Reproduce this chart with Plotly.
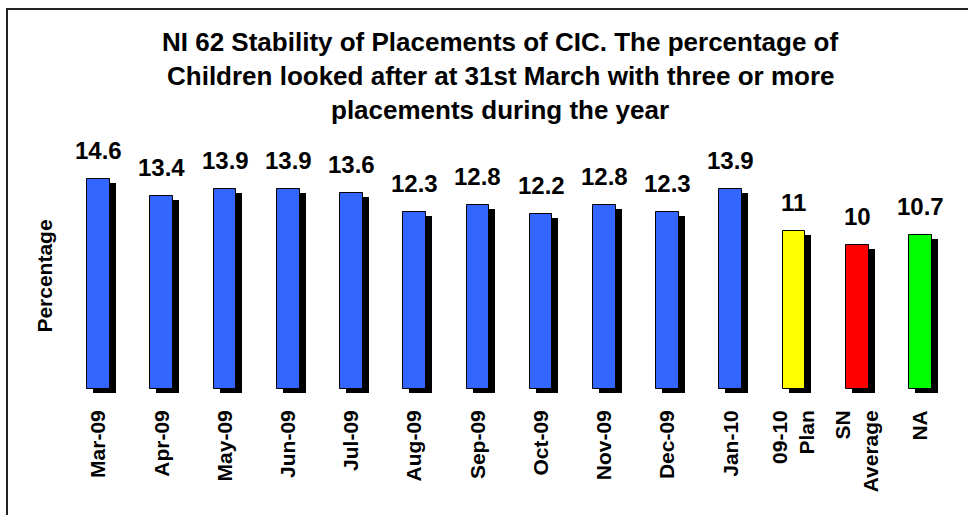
import plotly.graph_objects as go

categories = ["Mar-09", "Apr-09", "May-09", "Jun-09", "Jul-09", "Aug-09", "Sep-09",
              "Oct-09", "Nov-09", "Dec-09", "Jan-10", "09-10<br>Plan", "SN<br>Average", "NA"]
values = [14.6, 13.4, 13.9, 13.9, 13.6, 12.3, 12.8, 12.2, 12.8, 12.3, 13.9, 11, 10, 10.7]
labels = ["14.6", "13.4", "13.9", "13.9", "13.6", "12.3", "12.8", "12.2", "12.8", "12.3",
          "13.9", "11", "10", "10.7"]
colors = ["#3366FF"] * 11 + ["#FFFF00", "#FF0000", "#00FF00"]

title_lines = ["NI 62 Stability of Placements of CIC. The percentage of",
               "Children looked after at 31st March with three or more",
               "placements during the year"]

W, H = 968, 515
ML, MR, MT, MB = 67, 16, 159, 122
FONT = "Liberation Sans, Arial, sans-serif"


def px_x(p):
    return (p - ML) / (W - ML - MR)


def px_y(p):
    return (H - MB - p) / (H - MT - MB)


fig = go.Figure()

# drop shadow behind each bar
fig.add_trace(go.Bar(
    x=categories, y=values, base=-0.28, width=0.36, offset=-0.085,
    marker=dict(color="black", line=dict(width=0)),
    hoverinfo="skip", showlegend=False,
))
fig.add_trace(go.Bar(
    x=categories, y=values, width=0.36, offset=-0.18,
    marker=dict(color=colors, line=dict(color="black", width=1)),
    showlegend=False,
))

for c, v, t in zip(categories, values, labels):
    fig.add_annotation(x=c, y=v, text=t, showarrow=False, yanchor="bottom", yshift=13,
                       font=dict(family=FONT, size=24, color="black", weight="bold"))

for i, line in enumerate(title_lines):
    fig.add_annotation(xref="paper", yref="paper", x=px_x(500), y=px_y(42 + 34 * i),
                       text=line, showarrow=False, xanchor="center", yanchor="middle",
                       font=dict(family=FONT, size=26, color="black", weight="bold"))

# outer frame
fig.add_shape(type="rect", xref="paper", yref="paper",
              x0=px_x(7), x1=px_x(980), y0=px_y(9), y1=px_y(530),
              line=dict(color="#222222", width=2))

fig.update_layout(
    width=W, height=H,
    margin=dict(l=ML, r=MR, t=MT, b=MB),
    paper_bgcolor="white", plot_bgcolor="white",
    barmode="overlay", bargap=0,
    xaxis=dict(tickangle=-90, showgrid=False, showline=False, ticks="",
               ticklabelstandoff=12,
               tickfont=dict(family=FONT, size=21, color="black", weight="bold")),
    yaxis=dict(range=[-0.3, 16], showgrid=False, zeroline=False, showline=False,
               showticklabels=False, ticks="",
               title=dict(text="Percentage", standoff=7,
                          font=dict(family=FONT, size=21, color="black", weight="bold"))),
)

# drop the browser's default body margin so the figure sits at the page corner
fig.write_html("out.html", config={"displayModeBar": False},
               post_script="document.body.style.margin='0';")
